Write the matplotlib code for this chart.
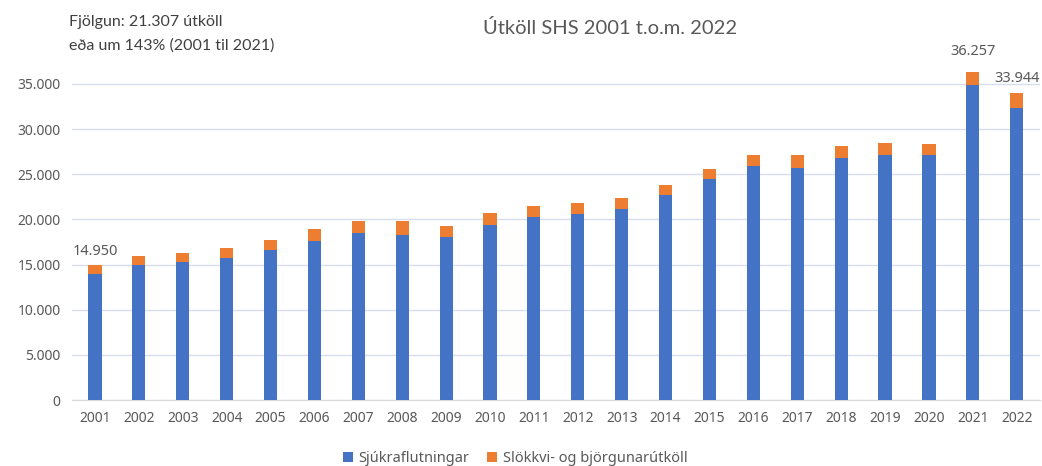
import matplotlib.pyplot as plt
import numpy as np
from matplotlib.ticker import FuncFormatter

years = [str(y) for y in range(2001, 2023)]
sjukra = [14000, 14900, 15250, 15700, 16600, 17600, 18450, 18300, 18000, 19400, 20300,
          20550, 21200, 22650, 24500, 25900, 25650, 26750, 27150, 27100, 34850, 32350]
totals = [14950, 15950, 16250, 16800, 17700, 18900, 19800, 19850, 19300, 20670, 21480,
          21850, 22340, 23780, 25600, 27100, 27100, 28080, 28480, 28380, 36257, 33944]
slokkvi = [t - s for t, s in zip(totals, sjukra)]
labelled_years = ["2001", "2021", "2022"]

BLUE = "#4472C4"
ORANGE = "#ED7D31"
GREY = "#595959"


def dotfmt(v, pos=None):
    return "{:,.0f}".format(v).replace(",", ".")


fig = plt.figure(figsize=(10.42, 4.66), dpi=100)
ax = fig.add_axes([0.0688, 0.1416, 0.9293, 0.7754])

x = np.arange(len(years))
ax.bar(x, sjukra, width=0.30, color=BLUE, label="Sjúkraflutningar", zorder=3)
ax.bar(x, slokkvi, width=0.30, bottom=sjukra, color=ORANGE,
       label="Slökkvi- og björgunarútköll", zorder=3)

ax.set_xlim(-0.53, len(years) - 0.47)
ax.set_ylim(0, 40000)
ax.set_yticks(np.arange(0, 40000, 5000))
ax.yaxis.set_major_formatter(FuncFormatter(dotfmt))
ax.set_xticks(x)
ax.set_xticklabels(years)
ax.tick_params(length=0, labelsize=10, colors=GREY, pad=8)
for lab in ax.get_xticklabels() + ax.get_yticklabels():
    lab.set_fontfamily("Noto Sans")
ax.yaxis.grid(True, color="#D9DCEC", linewidth=1.0, zorder=0)
for s in ["top", "right", "left"]:
    ax.spines[s].set_visible(False)
ax.spines["bottom"].set_color("#D9D9D9")

# value labels on chosen bars
offsets = {"2001": 4, "2021": 10, "2022": 5}
for yr in labelled_years:
    i = years.index(yr)
    ax.annotate(dotfmt(totals[i]), (i, totals[i]), xytext=(0, offsets[yr]),
                textcoords="offset points", ha="center", va="bottom",
                fontsize=10.5, color=GREY, family="Noto Sans")

fig.text(0.585, 0.94, "Útköll SHS 2001 t.o.m. 2022", ha="center", va="center",
         fontsize=14.5, color=GREY, family="Lato")
fig.text(0.066, 0.952, "Fjölgun: 21.307 útköll", ha="left", va="center",
         fontsize=11.5, color="#404040", family="Lato")
fig.text(0.066, 0.903, "eða um 143% (2001 til 2021)", ha="left", va="center",
         fontsize=11.5, color="#404040", family="Lato")

leg = ax.legend(loc="center", bbox_to_anchor=(0.458, -0.162), ncol=2, frameon=False,
                handlelength=0.7, handleheight=0.7, columnspacing=1.2,
                handletextpad=0.4, prop={"family": "Noto Sans", "size": 10.5})
for t in leg.get_texts():
    t.set_color(GREY)

fig.savefig("out.png", dpi=100)
